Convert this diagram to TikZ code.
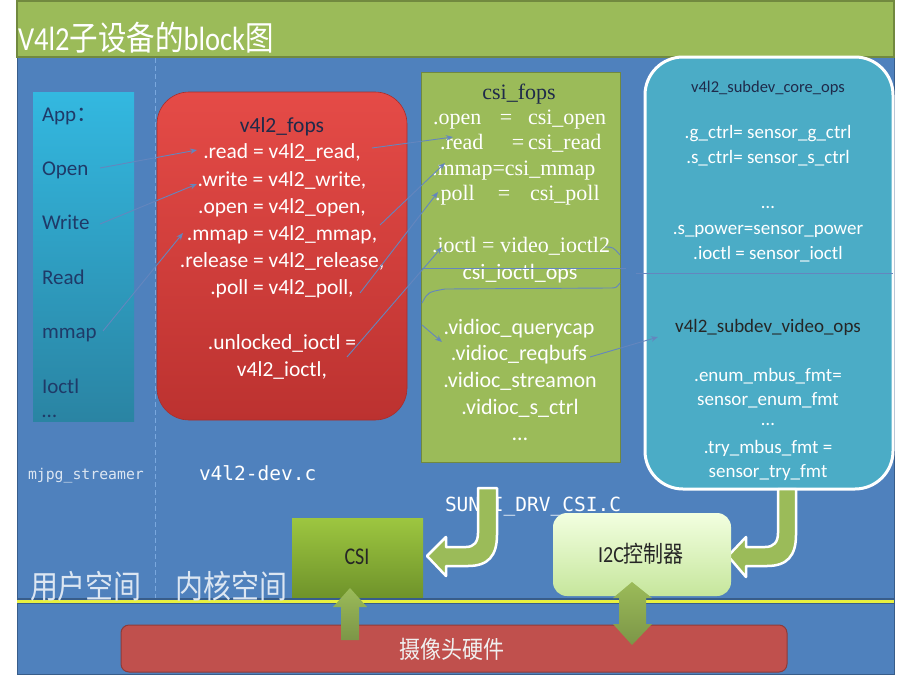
\documentclass[tikz,border=0pt]{standalone}
\usepackage{fontspec}
\usepackage{graphicx}
\setmainfont{Carlito}
\newfontfamily\cjk{Noto Sans CJK SC}
\newfontfamily\tnr{Liberation Serif}
\newfontfamily\mono{DejaVu Sans Mono}
\usetikzlibrary{arrows.meta}
\definecolor{hdrgreen}{HTML}{9BBB59}
\definecolor{hdrborder}{HTML}{71893F}
\definecolor{bgblue}{HTML}{4F81BD}
\definecolor{bgborder}{HTML}{385D8A}
\definecolor{dashblue}{HTML}{7AA8DE}
\definecolor{apptop}{HTML}{33B8E0}
\definecolor{appbot}{HTML}{2A84A3}
\definecolor{appnavy}{HTML}{1F3A68}
\definecolor{redtop}{HTML}{E54B47}
\definecolor{redbot}{HTML}{BC3230}
\definecolor{darknavy}{HTML}{1F2A4A}
\definecolor{cyanbox}{HTML}{4BACC6}
\definecolor{connc}{HTML}{6486BE}
\definecolor{arrowgreen}{HTML}{9BBB59}
\definecolor{csitop}{HTML}{9DC640}
\definecolor{csibot}{HTML}{6E922A}
\definecolor{itop}{HTML}{F2FFE0}
\definecolor{ibot}{HTML}{C6E69C}
\definecolor{hwred}{HTML}{C0504D}
\definecolor{hwborder}{HTML}{8F3B39}
\definecolor{yel}{HTML}{E8F040}
\definecolor{spacecol}{HTML}{DCE6F2}
\newcommand\fsz[1]{\fontsize{#1}{#1}\selectfont}
\newcommand\tallbox[2]{\scalebox{1}[#1]{#2}}
\tikzset{
  txt/.style={inner sep=0pt, outer sep=0pt},
  apptxt/.style={txt, anchor=base west, text=appnavy, font=\fsz{21}},
  redtxt/.style={txt, anchor=base, text=white, font=\fsz{21.5}},
  gsans/.style={txt, anchor=base, text=white, font=\fsz{22}},
  gserif/.style={txt, anchor=base west, text=white, font=\tnr\fsz{22}},
  cyantxt/.style={txt, anchor=base, text=white, font=\fsz{19}},
  monotxt/.style={txt, anchor=base west, text=white, font=\mono\fsz{19.5}},
  conn/.style={draw=connc, line width=0.9pt},
  conna/.style={conn, -{Stealth[length=7pt,width=5.5pt]}},
  barrow/.style={fill=arrowgreen, draw=white, line width=2.5pt, line join=round},
  sarrow/.style={top color=arrowgreen, bottom color=arrowgreen!80!black, draw=none},
}
\begin{document}
\begin{tikzpicture}[x=1pt,y=-1pt]
\useasboundingbox (0,0) rectangle (900,675);
\fill[white] (0,0) rectangle (900,675);
% background panels
\node[txt, anchor=north west, fill=bgblue, draw=bgborder, line width=1pt, minimum width=877pt, minimum height=617pt] (bg) at (17,57) {};
\node[txt, anchor=north west, fill=hdrgreen, draw=hdrborder, line width=1.2pt, minimum width=877pt, minimum height=56pt] (hdr) at (17,1) {};
\node[txt, anchor=base west, text=white, font=\fsz{28.5}] (title) at (18,50) {\tallbox{1.18}{V4l2{\cjk 子设备的}block{\cjk 图}}};
% dashed divider
\coordinate (dtop) at (155,58);
\coordinate (dbot) at (155,600);
\draw[dashblue, line width=1pt, dash pattern=on 5pt off 3pt] (dtop) -- (dbot);
% app box
\node[txt, top color=apptop, bottom color=appbot, minimum width=101pt, minimum height=329pt] (app) at (83.5,256.5) {};
\node[apptxt] (a0) at (42,121) {App{\cjk ：}};
\node[apptxt] (a1) at (42,175) {Open};
\node[apptxt] (a2) at (42,229) {Write};
\node[apptxt] (a3) at (42,284) {Read};
\node[apptxt] (a4) at (42,338) {mmap};
\node[apptxt] (a5) at (42,393) {Ioctl};
\node[apptxt] (a6) at (42,417) {…};
\node[txt, anchor=base west, text=spacecol, font=\mono\fsz{14.8}] (mjpg) at (28,479) {mjpg\_streamer};
% red fops box
\node[txt, top color=redtop, bottom color=redbot, draw=redbot!90!black, line width=0.6pt, rounded corners=32pt, minimum width=250pt, minimum height=328pt] (fops) at (282,256) {};
\node[redtxt, text=darknavy] (f0) at (282,132) {v4l2\_fops};
\node[redtxt] (f1) at (282,158) {.read = v4l2\_read,};
\node[redtxt] (f2) at (282,186) {.write = v4l2\_write,};
\node[redtxt] (f3) at (282,213) {.open = v4l2\_open,};
\node[redtxt] (f4) at (282,240) {.mmap = v4l2\_mmap,};
\node[redtxt] (f5) at (282,267) {.release = v4l2\_release,};
\node[redtxt] (f6) at (282,294) {.poll = v4l2\_poll,};
\node[redtxt] (f7) at (282,349) {.unlocked\_ioctl =};
\node[redtxt] (f8) at (282,376) {v4l2\_ioctl,};
\node[monotxt] (devc) at (199,480) {v4l2-dev.c};
% green csi box
\node[txt, fill=hdrgreen, draw=hdrborder, line width=0.8pt, minimum width=199pt, minimum height=390pt] (csibox) at (520.5,267) {};
\node[txt, anchor=base, text=darknavy, font=\tnr\fsz{22}] (g0) at (519,99) {csi\_fops};
\node[gserif] (g1a) at (433,124) {.open};
\node[gserif, anchor=base] (g1b) at (506,124) {=};
\node[gserif] (g1c) at (528,124) {csi\_open};
\node[gserif] (g2a) at (440,149) {.read};
\node[gserif, anchor=base] (g2b) at (518,149) {=};
\node[gserif] (g2c) at (528,149) {csi\_read};
\node[gserif] (g3) at (432,175) {.mmap=csi\_mmap};
\node[gserif] (g4a) at (435,200) {.poll};
\node[gserif, anchor=base] (g4b) at (504,200) {=};
\node[gserif] (g4c) at (530,200) {csi\_poll};
\node[gserif] (g5) at (432,252) {.ioctl = video\_ioctl2};
\node[gsans] (g6) at (520,279) {csi\_ioctl\_ops};
\node[gsans] (g7) at (519,334) {.vidioc\_querycap};
\node[gsans] (g8) at (519,360) {.vidioc\_reqbufs};
\node[gsans] (g9) at (520,387) {.vidioc\_streamon};
\node[gsans] (g10) at (520,414) {.vidioc\_s\_ctrl};
\node[gsans] (g11) at (520,440) {…};
% right cyan box
\node[txt, fill=cyanbox, draw=white, line width=3pt, rounded corners=38pt, minimum width=248pt, minimum height=432pt] (subdev) at (769,273) {};
\node[cyantxt, text=darknavy, font=\fsz{16.5}] (s0) at (768,92) {v4l2\_subdev\_core\_ops};
\node[cyantxt] (s1) at (768,138) {.g\_ctrl= sensor\_g\_ctrl};
\node[cyantxt] (s2) at (768,163) {.s\_ctrl= sensor\_s\_ctrl};
\node[cyantxt] (s3) at (768,208) {…};
\node[cyantxt] (s4) at (768,234) {.s\_power=sensor\_power};
\node[cyantxt] (s5) at (768,259) {.ioctl = sensor\_ioctl};
\node[cyantxt, text=black!85] (s6) at (768,332) {v4l2\_subdev\_video\_ops};
\node[cyantxt] (s7) at (768,381) {.enum\_mbus\_fmt=};
\node[cyantxt] (s8) at (768,405) {sensor\_enum\_fmt};
\node[cyantxt] (s9) at (768,425) {…};
\node[cyantxt] (s10) at (768,453) {.try\_mbus\_fmt =};
\node[cyantxt] (s11) at (768,477) {sensor\_try\_fmt};
% connectors
\coordinate (c1a) at (100,168); \coordinate (c1b) at (197,150);
\coordinate (c2a) at (100,224); \coordinate (c2b) at (197,184);
\coordinate (c3a) at (103,331); \coordinate (c3b) at (183,233);
\coordinate (c4a) at (372,148); \coordinate (c4b) at (453,137);
\coordinate (c5a) at (380,225); \coordinate (c5b) at (445,163);
\coordinate (c6a) at (360,293); \coordinate (c6b) at (438,192);
\coordinate (c7a) at (347,357); \coordinate (c7b) at (442,247);
\coordinate (c8a) at (422,268); \coordinate (c8b) at (626,268);
\coordinate (c9a) at (422,303); \coordinate (c9m) at (445,289); \coordinate (c9n) at (610,288); \coordinate (c9b) at (620,283);
\coordinate (c10a) at (422,325); \coordinate (c10b) at (442,342);
\coordinate (c11a) at (590,357); \coordinate (c11b) at (658,337);
\coordinate (c12a) at (605,247); \coordinate (c12b) at (620,255);
\coordinate (c13a) at (636,273); \coordinate (c13b) at (893,273);
\draw[conna] (c1a) -- (c1b);
\draw[conna] (c2a) -- (c2b);
\draw[conna] (c3a) -- (c3b);
\draw[conna] (c4a) -- (c4b);
\draw[conna] (c5a) -- (c5b);
\draw[conna] (c6a) -- (c6b);
\draw[conna] (c7a) -- (c7b);
\draw[conn] (c8a) -- (c8b);
\draw[conn] (c9a) .. controls (428,292) .. (c9m) -- (c9n) .. controls (616,288) .. (c9b);
\draw[conna] (c10a) -- (c10b);
\draw[conna] (c11a) -- (c11b);
\draw[conn] (c12a) .. controls (613,247) .. (c12b);
\draw[conn] (c13a) -- (c13b);
% file label and curved block arrows
\node[monotxt] (sunxi) at (445,511) {SUNXI\_DRV\_CSI.C};
\draw[barrow] (478,488) -- (497,488) -- (497,535) .. controls (497,556) and (488,566) .. (468,566) -- (446,566) -- (446,576) -- (427,556) -- (446,537) -- (446,547) -- (466,547) .. controls (474,547) and (478,542) .. (478,533) -- cycle;
\draw[barrow] (778,489) -- (796,489) -- (796,535) .. controls (796,556) and (787,566) .. (767,566) -- (746,566) -- (746,577) -- (728,556) -- (746,537) -- (746,547) -- (765,547) .. controls (774,547) and (778,542) .. (778,533) -- cycle;
% CSI and I2C boxes
\node[txt, top color=csitop, bottom color=csibot, minimum width=131pt, minimum height=81pt] (csi) at (357.5,558.5) {};
\node[txt, text=black!85, font=\fsz{20}] (csil) at (357,557) {\tallbox{1.2}{CSI}};
\node[txt, top color=itop, bottom color=ibot, rounded corners=14pt, minimum width=178pt, minimum height=83pt] (i2c) at (642,554.5) {};
\node[txt, text=black!85, font=\fsz{20}] (i2cl) at (641,554) {\tallbox{1.15}{I2C{\cjk 控制器}}};
% user / kernel space boundary
\coordinate (ya) at (17,601); \coordinate (yb) at (894,601);
\draw[bgborder, line width=6pt] (ya) -- (yb);
\draw[yel, line width=3pt] (ya) -- (yb);
\node[txt, anchor=base west, text=spacecol, font=\cjk\fsz{28}] (user) at (30,598) {\tallbox{1.15}{用户空间}};
\node[txt, anchor=base west, text=spacecol, font=\cjk\fsz{28}] (kern) at (175,598) {\tallbox{1.15}{内核空间}};
% hardware box
\node[txt, fill=hwred, draw=hwborder, line width=1pt, rounded corners=8pt, minimum width=666pt, minimum height=47pt] (hw) at (454,648.5) {};
\node[txt, text=white!94!black, font=\cjk\fsz{21}] (hwl) at (452,649) {\tallbox{1.15}{摄像头硬件}};
% straight block arrows
\path[sarrow] (341,640) -- (341,607) -- (333,607) -- (350,588) -- (367,607) -- (359,607) -- (359,640) -- cycle;
\path[sarrow] (632,582) -- (652,598) -- (646,598) -- (646,624) -- (652,624) -- (632,645) -- (613,624) -- (619,624) -- (619,598) -- (613,598) -- cycle;
\end{tikzpicture}
\end{document}
